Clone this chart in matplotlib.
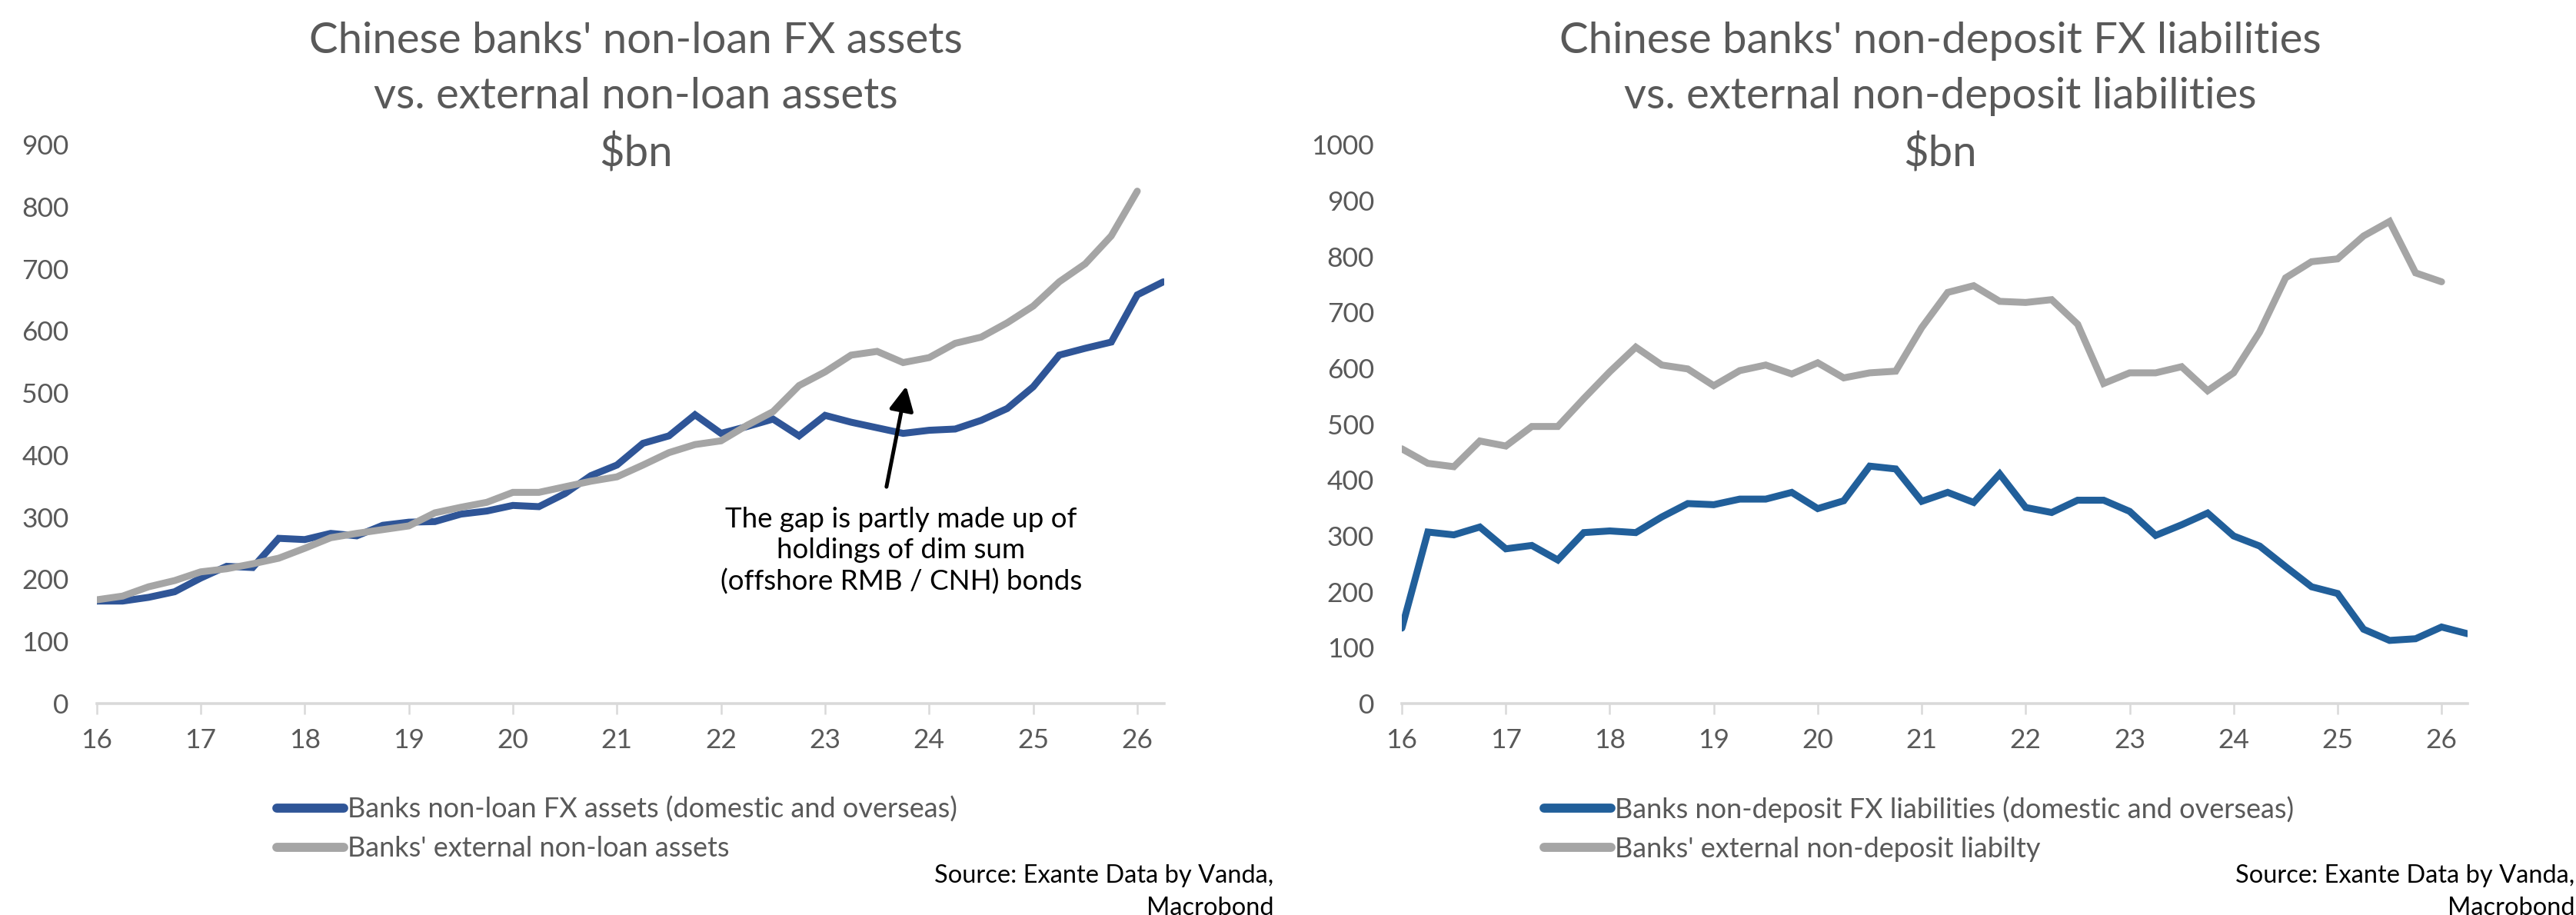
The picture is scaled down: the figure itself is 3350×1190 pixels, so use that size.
import numpy as np
import matplotlib
matplotlib.use('Agg')
import matplotlib.pyplot as plt

# Quarterly data, 2016Q1 onwards, $bn
blue_left = [165, 165, 171, 180, 202, 221, 219, 266, 264, 274,
             270, 287, 292, 293, 305, 310, 319, 317, 338, 367,
             384, 419, 431, 465, 435, 446, 458, 431, 464, 453,
             444, 435, 440, 442, 456, 475, 510, 561, 572, 582,
             658, 679]
gray_left = [167, 173, 188, 198, 212, 217, 225, 234, 250, 267,
             274, 280, 286, 307, 316, 324, 340, 340, 349, 358,
             365, 384, 404, 417, 423, 448, 470, 512, 534, 561,
             567, 549, 557, 580, 590, 613, 640, 679, 708, 753,
             825]
blue_right = [135, 307, 302, 316, 277, 283, 257, 306, 309, 306,
              334, 358, 356, 366, 366, 378, 349, 363, 425, 420,
              362, 378, 360, 411, 351, 342, 364, 364, 344, 301,
              320, 341, 300, 282, 245, 209, 197, 133, 113, 116,
              137, 125]
gray_right = [456, 430, 424, 470, 461, 496, 496, 546, 594, 638,
              606, 599, 569, 596, 606, 590, 610, 583, 592, 595,
              673, 736, 748, 720, 718, 723, 679, 573, 592, 592,
              603, 560, 592, 665, 762, 791, 796, 837, 863, 771,
              755]

anos = list(range(16, 27))
etiquetas_x = [str(a) for a in anos]

titulo_izq = "Chinese banks' non-loan FX assets\nvs. external non-loan assets\n$bn"
titulo_der = "Chinese banks' non-deposit FX liabilities\nvs. external non-deposit liabilities\n$bn"
leyenda_izq = ["Banks non-loan FX assets (domestic and overseas)",
               "Banks' external non-loan assets"]
leyenda_der = ["Banks non-deposit FX liabilities (domestic and overseas)",
               "Banks' external non-deposit liabilty"]
nota = "The gap is partly made up of\nholdings of dim sum\n(offshore RMB / CNH) bonds"
fuente_1 = "Source: Exante Data by Vanda,"
fuente_2 = "Macrobond"

AZUL_IZQ = '#2F5597'
AZUL_DER = '#215F9A'
GRIS = '#A5A5A5'
TEXTO = '#595959'
EJE = '#D9D9D9'

plt.rcParams['font.family'] = ['Lato', 'DejaVu Sans']

fig = plt.figure(figsize=(33.5, 11.9), dpi=100)
ax1 = fig.add_axes([0.0375, 0.2311, 0.4145, 0.6109])
ax2 = fig.add_axes([0.5442, 0.2311, 0.4137, 0.6105])


def trimestres(serie):
    return 16 + np.arange(len(serie)) * 0.25


def estilo(ax, ymax, xmax):
    ax.set_xlim(16, xmax)
    ax.set_ylim(0, ymax)
    for lado in ['top', 'right', 'left']:
        ax.spines[lado].set_visible(False)
    ax.spines['bottom'].set_color(EJE)
    ax.spines['bottom'].set_linewidth(2.6)
    ax.set_xticks(anos)
    ax.set_xticklabels(etiquetas_x)
    ax.set_yticks(range(0, ymax + 1, 100))
    ax.tick_params(axis='x', colors=EJE, labelcolor=TEXTO, labelsize=25.5,
                   length=10, width=1.8, pad=13)
    ax.tick_params(axis='y', length=0, labelcolor=TEXTO, labelsize=25.5, pad=26)


# panel izquierdo
l1, = ax1.plot(trimestres(blue_left), blue_left, color=AZUL_IZQ, lw=6.5,
               solid_capstyle='round', solid_joinstyle='miter')
l2, = ax1.plot(trimestres(gray_left), gray_left, color=GRIS, lw=6.5,
               solid_capstyle='round', solid_joinstyle='miter')
estilo(ax1, 900, 26.26)
ax1.annotate('', xy=(23.78, 511), xytext=(23.59, 349),
             arrowprops=dict(arrowstyle='-|>', color='black', lw=3.6,
                             mutation_scale=48, shrinkA=0, shrinkB=0))
ax1.text(23.73, 246, nota, ha='center', va='center', fontsize=26.5,
         color='black', linespacing=1.27)

# panel derecho
r1, = ax2.plot(trimestres(blue_right), blue_right, color=AZUL_DER, lw=6.5,
               solid_capstyle='round', solid_joinstyle='miter')
r2, = ax2.plot(trimestres(gray_right), gray_right, color=GRIS, lw=6.5,
               solid_capstyle='round', solid_joinstyle='miter')
estilo(ax2, 1000, 26.25)

# titulos
fig.text(0.2469, 0.893, titulo_izq, ha='center', va='center', fontsize=40.5,
         color=TEXTO, linespacing=1.52)
fig.text(0.7531, 0.893, titulo_der, ha='center', va='center', fontsize=40.5,
         color=TEXTO, linespacing=1.52)

# leyendas
for handles, textos, x0 in [((l1, l2), leyenda_izq, 360 / 3350),
                            ((r1, r2), leyenda_der, 2008 / 3350)]:
    leg = fig.legend(handles, textos, loc='upper left',
                     bbox_to_anchor=(x0, 0.130), frameon=False, fontsize=26,
                     handlelength=2.4, handletextpad=0.15, labelspacing=0.5,
                     borderpad=0, borderaxespad=0)
    for t in leg.get_texts():
        t.set_color(TEXTO)
    for h in leg.get_lines():
        h.set_linewidth(8.5)
        h.set_solid_capstyle('round')

# fuente
for x_der in [1656 / 3350, 3348 / 3350]:
    fig.text(x_der, 0.0429, fuente_1, ha='right', va='center', fontsize=23.5,
             color='black')
    fig.text(x_der, 0.0075, fuente_2, ha='right', va='center', fontsize=23.5,
             color='black')

fig.savefig('out.png', dpi=100, facecolor='white')
